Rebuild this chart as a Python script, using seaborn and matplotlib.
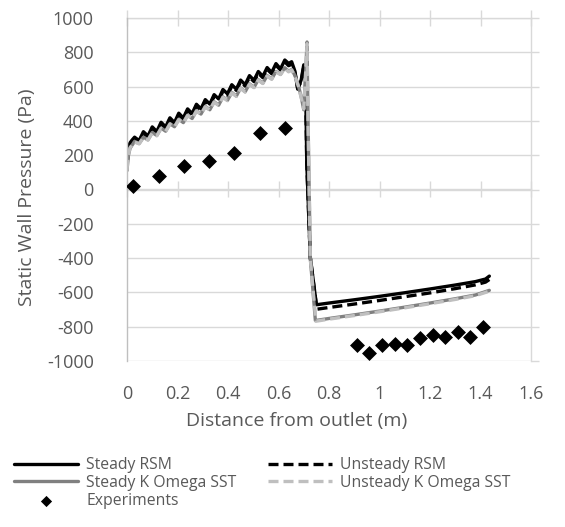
import matplotlib
matplotlib.use("Agg")
import matplotlib.pyplot as plt
import seaborn as sns
import pandas as pd

# ---------------- data ----------------
x_upstream = [0.000, 0.005, 0.012, 0.020, 0.030, 0.048, 0.065, 0.083, 0.100, 0.118,
              0.135, 0.153, 0.170, 0.188, 0.205, 0.223, 0.240, 0.258, 0.275, 0.293,
              0.310, 0.328, 0.345, 0.363, 0.380, 0.398, 0.415, 0.433, 0.450, 0.468,
              0.485, 0.503, 0.520, 0.538, 0.555, 0.573, 0.590, 0.608, 0.625]

y_steady_rsm_up = [140, 230, 272, 288, 305, 285, 337, 312, 365, 338, 392, 365, 418, 390,
                   445, 417, 470, 443, 497, 470, 524, 498, 553, 528, 583, 558, 611, 585,
                   638, 611, 664, 637, 688, 660, 711, 682, 734, 703, 755]
y_unsteady_rsm_up = [135, 222, 265, 282, 296, 280, 328, 306, 356, 332, 383, 358, 410, 384,
                     436, 410, 462, 436, 488, 462, 515, 490, 544, 520, 573, 550, 602, 578,
                     628, 603, 655, 629, 678, 652, 701, 675, 724, 697, 744]
y_steady_kw_up = [110, 195, 240, 258, 280, 268, 305, 290, 332, 315, 358, 340, 384, 366,
                  410, 390, 434, 414, 460, 440, 485, 465, 512, 492, 540, 520, 566, 545,
                  592, 570, 616, 596, 640, 620, 664, 645, 688, 672, 710]
y_unsteady_kw_up = [115, 200, 243, 260, 277, 266, 302, 288, 330, 313, 355, 338, 381, 364,
                    407, 388, 431, 412, 457, 438, 482, 463, 509, 490, 537, 518, 563, 543,
                    589, 568, 613, 594, 637, 618, 661, 643, 685, 670, 706]

x_steady_rsm_tail = [0.640, 0.652, 0.665, 0.676, 0.690, 0.700, 0.707, 0.712, 0.726, 0.750,
                     0.800, 0.900, 1.000, 1.100, 1.200, 1.300, 1.380, 1.420, 1.435]
y_steady_rsm_tail = [735, 745, 690, 585, 640, 727, 650, 150, -395, -672,
                     -662, -643, -623, -602, -580, -557, -537, -522, -505]
x_unsteady_rsm_tail = [0.640, 0.652, 0.665, 0.676, 0.690, 0.700, 0.707, 0.712, 0.726, 0.752,
                       0.800, 0.900, 1.000, 1.100, 1.200, 1.300, 1.380, 1.420, 1.435]
y_unsteady_rsm_tail = [722, 730, 680, 590, 630, 715, 640, 150, -400, -698,
                       -688, -668, -647, -625, -603, -578, -556, -540, -525]
x_steady_kw_tail = [0.640, 0.652, 0.665, 0.678, 0.690, 0.700, 0.708, 0.713, 0.717, 0.726,
                    0.746, 0.800, 0.900, 1.000, 1.100, 1.200, 1.300, 1.380, 1.435]
y_steady_kw_tail = [690, 700, 665, 610, 540, 465, 700, 860, 400, -400,
                    -764, -752, -731, -709, -686, -662, -637, -615, -588]
x_unsteady_kw_tail = [0.640, 0.652, 0.665, 0.678, 0.690, 0.700, 0.708, 0.713, 0.717, 0.726,
                      0.748, 0.800, 0.900, 1.000, 1.100, 1.200, 1.300, 1.380, 1.435]
y_unsteady_kw_tail = [686, 697, 660, 605, 535, 470, 690, 850, 380, -405,
                      -768, -756, -735, -713, -690, -666, -641, -619, -593]

x_experiments = [0.025, 0.125, 0.225, 0.325, 0.425, 0.525, 0.625,
                 0.91, 0.96, 1.01, 1.06, 1.11, 1.16, 1.21, 1.26, 1.31, 1.36, 1.41]
y_experiments = [18, 80, 138, 165, 212, 328, 360,
                 -908, -955, -905, -900, -905, -865, -848, -862, -832, -862, -804]

series_names = ["Steady RSM", "Unsteady RSM", "Steady K Omega SST", "Unsteady K Omega SST"]
x_ticks = [0, 0.2, 0.4, 0.6, 0.8, 1.0, 1.2, 1.4, 1.6]
x_tick_labels = ["0", "0.2", "0.4", "0.6", "0.8", "1", "1.2", "1.4", "1.6"]
y_ticks = [-1000, -800, -600, -400, -200, 0, 200, 400, 600, 800, 1000]

# ---------------- style ----------------
sns.set_style("white")
plt.rcParams["font.family"] = ["Open Sans", "DejaVu Sans"]
plt.rcParams["axes.unicode_minus"] = False
TEXT = "#595959"
GRID = "#d9d9d9"
AXLINE = "#bfbfbf"

fig = plt.figure(figsize=(5.65, 5.27), dpi=100)
ax = fig.add_axes([127 / 565, 1 - 361 / 527, 404 / 565, 343 / 527])

frames = {
    "Steady RSM": (x_upstream + x_steady_rsm_tail, y_steady_rsm_up + y_steady_rsm_tail),
    "Unsteady RSM": (x_upstream + x_unsteady_rsm_tail, y_unsteady_rsm_up + y_unsteady_rsm_tail),
    "Steady K Omega SST": (x_upstream + x_steady_kw_tail, y_steady_kw_up + y_steady_kw_tail),
    "Unsteady K Omega SST": (x_upstream + x_unsteady_kw_tail, y_unsteady_kw_up + y_unsteady_kw_tail),
}
styles = {
    "Steady RSM": dict(color="black", linestyle="-"),
    "Unsteady RSM": dict(color="black", linestyle=(0, (3, 1.5))),
    "Steady K Omega SST": dict(color="#808080", linestyle="-"),
    "Unsteady K Omega SST": dict(color="#bfbfbf", linestyle=(0, (3, 1.5))),
}
for name in series_names:
    xs, ys = frames[name]
    df = pd.DataFrame({"x": xs, "y": ys})
    sns.lineplot(data=df, x="x", y="y", ax=ax, sort=False, estimator=None,
                 linewidth=2.4, label=name, solid_joinstyle="round",
                 dash_joinstyle="round", **styles[name])

dfe = pd.DataFrame({"x": x_experiments, "y": y_experiments})
sns.scatterplot(data=dfe, x="x", y="y", ax=ax, marker="D", s=58, color="black",
                edgecolor="black", linewidth=0, label="Experiments", zorder=5)

if ax.get_legend() is not None:
    ax.get_legend().remove()

ax.set_xlim(0, 1.6)
ax.set_ylim(-1000, 1000)
ax.set_xticks(x_ticks)
ax.set_xticklabels(x_tick_labels)
ax.set_yticks(y_ticks)
ax.yaxis.grid(True, color=GRID, linewidth=1.0)
ax.xaxis.grid(False)
ax.set_axisbelow(True)

for side in ["top", "bottom"]:
    ax.spines[side].set_visible(False)
ax.spines["left"].set_color(AXLINE)
ax.spines["left"].set_linewidth(1.0)
ax.spines["right"].set_color(GRID)
ax.spines["right"].set_linewidth(1.0)

ax.tick_params(axis="x", length=0, pad=17, labelsize=13, labelcolor=TEXT)
ax.tick_params(axis="y", left=False, right=True, labelleft=True, labelright=False,
               length=6, width=1, color=GRID, pad=18, labelsize=13, labelcolor=TEXT)

# x axis crossing at y = 0 and top ticks
for loc in [0.5, 1.0]:
    sec = ax.secondary_xaxis(loc)
    sec.set_xticks(x_ticks)
    sec.tick_params(axis="x", direction="inout", length=11, width=1, color=GRID,
                    labelbottom=False, labeltop=False)
    for sp in sec.spines.values():
        sp.set_color(GRID)
        sp.set_linewidth(1.0)

ax.set_xlabel("")
ax.set_ylabel("")
fig.text(297 / 565, 1 - 421 / 527, "Distance from outlet (m)", ha="center", va="center",
         fontsize=14, color=TEXT)
fig.text(27 / 565, 1 - 197 / 527, "Static Wall Pressure (Pa)", ha="center", va="center",
         rotation=90, fontsize=14, color=TEXT)

handles, labels = ax.get_legend_handles_labels()
order = ["Steady RSM", "Steady K Omega SST", "Experiments", "Unsteady RSM", "Unsteady K Omega SST"]
hmap = dict(zip(labels, handles))
leg = fig.legend([hmap[k] for k in order], order, loc="upper left",
                 bbox_to_anchor=(14 / 565, 1 - 457 / 527), ncol=2, frameon=False,
                 fontsize=11.3, handlelength=4.1, handletextpad=0.5, columnspacing=2.0,
                 labelspacing=0.12, borderpad=0, borderaxespad=0, labelcolor=TEXT,
                 markerscale=0.75)

fig.savefig("out.png", dpi=100)
